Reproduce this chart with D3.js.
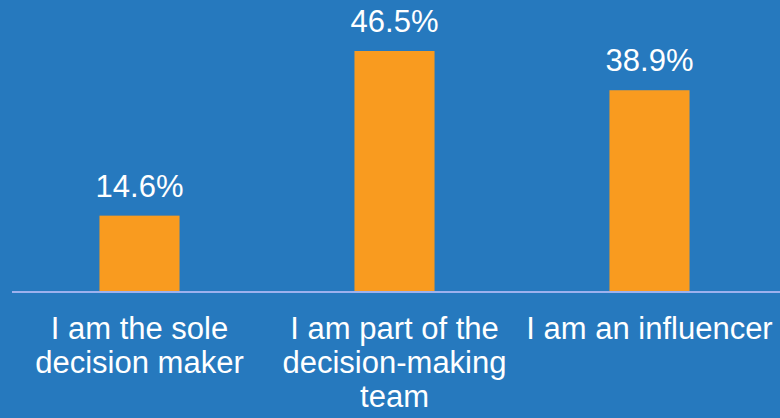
<!DOCTYPE html>
<html><head><meta charset="utf-8">
<script src="https://cdn.jsdelivr.net/npm/d3@7"></script>
<style>html,body{margin:0;padding:0;background:#2679BE;}svg{display:block;}</style>
</head><body>
<svg id="chart" width="780" height="418"></svg>
<script>
const categories = ["I am the sole decision maker", "I am part of the decision-making team", "I am an influencer"];
const categoryLines = [["I am the sole", "decision maker"], ["I am part of the", "decision-making", "team"], ["I am an influencer"]];
const values = [14.6, 46.5, 38.9];
const valueLabels = ["14.6%", "46.5%", "38.9%"];

const W = 780, H = 418;
const svg = d3.select("#chart");
svg.append("rect").attr("width", W).attr("height", H).attr("fill", "#2679BE");

const baseY = 291;
const x = d3.scaleBand().domain(categories).range([12, 777]).paddingInner(0.686).paddingOuter(0.343);
const y = d3.scaleLinear().domain([0, 46.5]).range([baseY, 51]);

svg.selectAll("rect.bar").data(values).enter().append("rect")
  .attr("class", "bar")
  .attr("x", (d, i) => x(categories[i]))
  .attr("width", x.bandwidth())
  .attr("y", d => y(d))
  .attr("height", d => baseY - y(d))
  .attr("fill", "#F99B1F");

svg.append("line").attr("x1", 12).attr("x2", 780).attr("y1", baseY + 1).attr("y2", baseY + 1)
  .attr("stroke", "#9DB1EE").attr("stroke-width", 2);

svg.selectAll("text.val").data(values).enter().append("text")
  .attr("class", "val")
  .attr("x", (d, i) => x(categories[i]) + x.bandwidth() / 2)
  .attr("y", d => y(d) - 19)
  .attr("text-anchor", "middle")
  .attr("font-family", "Liberation Sans, Arial, sans-serif")
  .attr("font-size", 31)
  .attr("fill", "#ffffff")
  .text((d, i) => valueLabels[i]);

categoryLines.forEach((lines, i) => {
  const cx = x(categories[i]) + x.bandwidth() / 2;
  const t = svg.append("text")
    .attr("text-anchor", "middle")
    .attr("font-family", "Liberation Sans, Arial, sans-serif")
    .attr("font-size", 31)
    .attr("fill", "#ffffff");
  lines.forEach((ln, j) => {
    t.append("tspan").attr("x", cx).attr("y", 339 + j * 34).text(ln);
  });
});
</script>
</body></html>
